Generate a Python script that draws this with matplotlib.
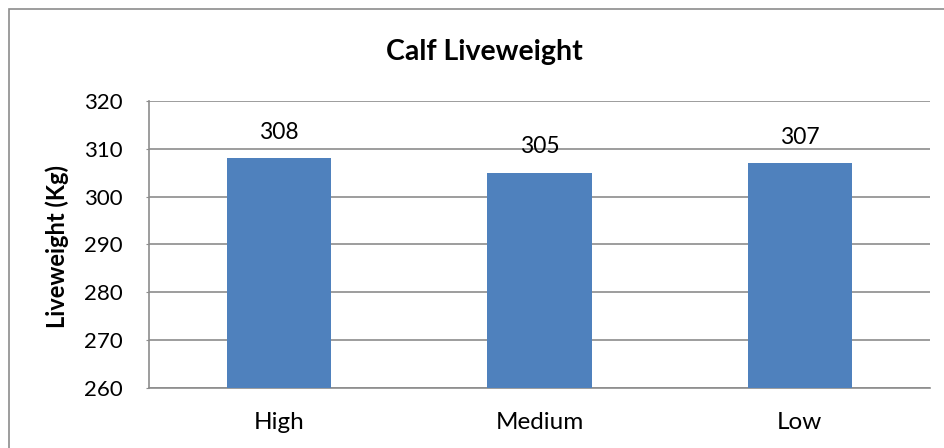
import matplotlib.pyplot as plt
from matplotlib.patches import Rectangle

categories = ['High', 'Medium', 'Low']
liveweight = [308, 305, 307]
y_ticks = [260, 270, 280, 290, 300, 310, 320]

plt.rcParams['font.family'] = ['Lato', 'DejaVu Sans']

fig = plt.figure(figsize=(9.45, 4.48), dpi=100)
ax = fig.add_axes([149 / 945, 60 / 448, 781 / 945, 287 / 448])

# outer chart border (cropped at the right and bottom)
fig.patches.append(Rectangle((9 / 945, -0.05), 1.2, (448 - 9) / 448 + 0.05,
                             transform=fig.transFigure, fill=False,
                             edgecolor='#8c8c8c', linewidth=1.2))

x = range(len(categories))
bars = ax.bar(x, liveweight, width=0.4, color='#4F81BD', zorder=3)
for b, v in zip(bars, liveweight):
    ax.annotate(str(v), (b.get_x() + b.get_width() / 2, v),
                xytext=(0, 11), textcoords='offset points',
                ha='center', va='bottom', fontsize=16.5)

ax.set_xlim(-0.5, len(categories) - 0.5)
ax.set_ylim(260, 320)
ax.set_yticks(y_ticks)
ax.set_xticks(list(x))
ax.set_xticklabels(categories)
ax.tick_params(axis='x', length=0, pad=17, labelsize=17.5)
ax.tick_params(axis='y', length=2, color='#8c8c8c', pad=17, labelsize=16)
ax.grid(axis='y', color='#8c8c8c', linewidth=1.2, zorder=0)
for s in ['top', 'right']:
    ax.spines[s].set_visible(False)
for s in ['left', 'bottom']:
    ax.spines[s].set_color('#8c8c8c')
    ax.spines[s].set_linewidth(1.2)

fig.text(57 / 945, (448 - 247) / 448, 'Liveweight (Kg)', rotation=90,
         ha='center', va='center', fontsize=17, fontweight='bold')
fig.text(484 / 945, (448 - 52) / 448, 'Calf Liveweight', ha='center',
         va='center', fontsize=20.5, fontweight='bold')

fig.savefig('out.png', dpi=100)
